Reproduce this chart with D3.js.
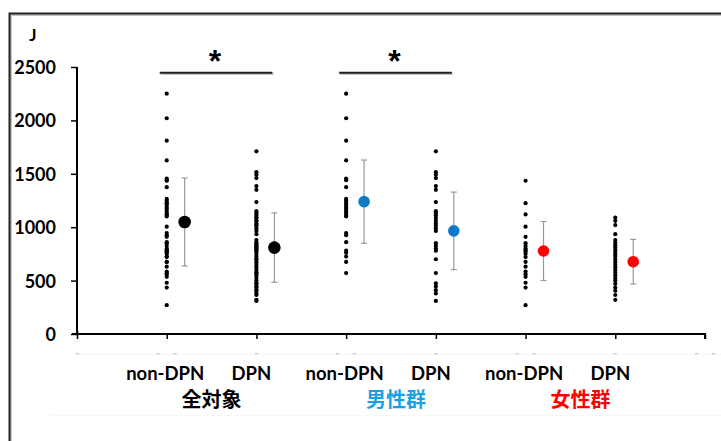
<!DOCTYPE html>
<html>
<head>
<meta charset="utf-8">
<script src="https://cdn.jsdelivr.net/npm/d3@7"></script>
<style>
  html, body { margin: 0; padding: 0; background: #fff; }
  svg { display: block; }
  .lat { font-family: Lato, "Liberation Sans", sans-serif; font-weight: 700; }
  .cjk { font-family: "Noto Sans CJK JP", sans-serif; font-weight: 700; }
  .star { font-family: "Liberation Sans", Arial, sans-serif; font-weight: 700; }
</style>
</head>
<body>
<svg id="chart" width="721" height="441"></svg>
<script>
// Energy (J) per subject, by group and DPN status
const groups = ["全対象", "男性群", "女性群"];
const groupColors = ["#000000", "#18A2E6", "#FF0000"];
const meanColors = ["#000000", "#0B7BC7", "#FF0000"];
const statusLabels = ["non-DPN", "DPN"];

const allNonDpn = [2250, 2020, 1810, 1625, 1455, 1440, 1435, 1375, 1265, 1250, 1230, 1225, 1210, 1190, 1175, 1155, 1135, 1120, 1115, 1100, 1005, 945, 925, 910, 860, 850, 825, 800, 785, 780, 770, 760, 750, 725, 720, 675, 675, 630, 585, 570, 560, 535, 480, 435, 270];
const allDpn = [1710, 1515, 1490, 1460, 1385, 1350, 1235, 1150, 1130, 1110, 1090, 1085, 1060, 1060, 1035, 1020, 1015, 990, 965, 935, 880, 855, 850, 830, 825, 810, 800, 785, 780, 760, 740, 720, 700, 695, 670, 645, 625, 600, 575, 570, 550, 525, 500, 475, 470, 445, 435, 410, 405, 380, 365, 320, 310];
const menNonDpn = [2250, 2020, 1810, 1625, 1455, 1440, 1375, 1265, 1250, 1230, 1210, 1190, 1175, 1155, 1135, 1115, 1100, 945, 925, 860, 780, 760, 725, 675, 570];
const menDpn = [1710, 1515, 1490, 1460, 1385, 1350, 1235, 1150, 1130, 1110, 1085, 1060, 1035, 1015, 990, 965, 850, 825, 800, 780, 700, 570, 475, 445, 410, 380, 310];
const womenNonDpn = [1435, 1225, 1120, 1005, 910, 850, 825, 800, 785, 770, 750, 720, 675, 630, 585, 560, 535, 480, 435, 270];
const womenDpn = [1090, 1060, 1020, 935, 880, 855, 830, 810, 785, 760, 740, 720, 695, 670, 645, 625, 600, 575, 550, 525, 500, 470, 435, 405, 365, 320];

// column order: all non-DPN, all DPN, men non-DPN, men DPN, women non-DPN, women DPN
const columns = [allNonDpn, allDpn, menNonDpn, menDpn, womenNonDpn, womenDpn];
const columnPos = [1, 2, 3, 4, 5, 6];
const means = [1048, 809, 1239, 966, 777, 677];
const sds = [412, 325, 390, 363, 276, 209];

const yTicks = [0, 500, 1000, 1500, 2000, 2500];
const xTicks = [0, 1, 2, 3, 4, 5, 6, 7];
const yUnit = "J";
// significant pairs (column indices)
const sigPairs = [[0, 1], [2, 3]];

const svg = d3.select("#chart");

const x = d3.scaleLinear().domain([0, 7]).range([77, 705]);
const y = d3.scaleLinear().domain([0, 2500]).range([334, 67]);

// outer frame (left and top edges) with soft shadow
const frame = svg.append("g");
frame.append("path").attr("d", "M11,443 L11,15 L723,15")
  .attr("fill", "none").attr("stroke", "#c4c4c4").attr("stroke-width", 2);
frame.append("path").attr("d", "M9.5,443 L9.5,13.5 L723,13.5")
  .attr("fill", "none").attr("stroke", "#222").attr("stroke-width", 2);

// faint edges of the label band
svg.append("line").attr("x1", 77).attr("x2", 721).attr("y1", 354.5).attr("y2", 354.5)
  .attr("stroke", "#f5f5f5").attr("stroke-width", 1);
svg.append("line").attr("x1", 50).attr("x2", 721).attr("y1", 415.5).attr("y2", 415.5)
  .attr("stroke", "#f7f7f7").attr("stroke-width", 1);

// remnants of numeric tick labels below the axis
const stubs = svg.append("g");
xTicks.forEach(t => {
  const offs = t % 2 === 1 ? [-8.5, 8.5] : [0];
  offs.forEach(o => {
    stubs.append("rect").attr("x", x(t) + o - 1.5).attr("y", 353).attr("width", 3).attr("height", 1.2)
      .attr("fill", "#c4c4c4");
  });
});

// y axis
const yAxis = svg.append("g").attr("transform", `translate(${x(0)},0)`)
  .call(d3.axisLeft(y).tickValues(yTicks).tickSize(6).tickPadding(15).tickFormat(d3.format("d")));
yAxis.select(".domain").attr("stroke", "#000").attr("stroke-width", 2).attr("d", `M0,${y(2500)}V${y(0) + 1}`);
yAxis.selectAll(".tick line").attr("stroke", "#000").attr("stroke-width", 1.5);
yAxis.selectAll(".tick text").attr("class", "lat").attr("font-size", 18).attr("fill", "#000")
  .attr("dy", "0.36em");

// x axis
const xAxis = svg.append("g").attr("transform", `translate(0,${y(0)})`)
  .call(d3.axisBottom(x).tickValues(xTicks).tickSize(5).tickFormat(""));
xAxis.select(".domain").attr("stroke", "#000").attr("stroke-width", 2)
  .attr("d", `M${x(0) - 5},0H${x(7)}V5`);
xAxis.selectAll(".tick line").attr("stroke", "#000").attr("stroke-width", 1.5)
  .attr("y1", (d, i) => i === 0 ? -3 : 0);

// unit label
svg.append("text").attr("class", "lat").attr("x", 33).attr("y", 41)
  .attr("text-anchor", "middle").attr("font-size", 17).text(yUnit);

// individual values
const dotLayer = svg.append("g");
columns.forEach((vals, i) => {
  dotLayer.selectAll(null).data(vals).enter().append("circle")
    .attr("cx", x(columnPos[i])).attr("cy", d => y(d)).attr("r", 2.1).attr("fill", "#000");
});

// mean ± SD
const ms = svg.append("g");
means.forEach((m, i) => {
  const cx = x(columnPos[i] + 0.2);
  const g = Math.floor(i / 2);
  const top = y(m + sds[i]), bot = y(m - sds[i]);
  ms.append("line").attr("x1", cx).attr("x2", cx).attr("y1", top).attr("y2", bot)
    .attr("stroke", "#9a9a9a").attr("stroke-width", 1.2);
  [top, bot].forEach(v => ms.append("line").attr("x1", cx - 3).attr("x2", cx + 3)
    .attr("y1", v).attr("y2", v).attr("stroke", "#9a9a9a").attr("stroke-width", 1.2));
  ms.append("circle").attr("cx", cx).attr("cy", y(m))
    .attr("r", g === 0 ? 6.3 : 5.8).attr("fill", meanColors[g]);
});

// significance brackets
sigPairs.forEach(([a, b]) => {
  const x1 = x(columnPos[a]) - 7, x2 = x(columnPos[b]) + 16;
  svg.append("line").attr("x1", x1 + 1).attr("x2", x2 + 1).attr("y1", 74).attr("y2", 74)
    .attr("stroke", "#c8c8c8").attr("stroke-width", 2);
  svg.append("line").attr("x1", x1).attr("x2", x2).attr("y1", 72.7).attr("y2", 72.7)
    .attr("stroke", "#222").attr("stroke-width", 2);
  svg.append("text").attr("class", "star").attr("x", (x1 + x2) / 2 - 1).attr("y", 72)
    .attr("text-anchor", "middle").attr("font-size", 32).text("*");
});

// category labels
columnPos.forEach((p, i) => {
  svg.append("text").attr("class", "lat").attr("x", x(p) + (i % 2 === 0 ? -1.5 : -5))
    .attr("y", 380).attr("text-anchor", "middle").attr("font-size", 18.5).attr("fill", "#000")
    .text(statusLabels[i % 2]);
});

// group labels
const groupShift = [0, 5, 10];
groups.forEach((gname, g) => {
  svg.append("text").attr("class", "cjk").attr("x", x(2 * g + 1.5) + groupShift[g])
    .attr("y", 407).attr("text-anchor", "middle").attr("font-size", 20)
    .attr("fill", groupColors[g]).text(gname);
});
</script>
</body>
</html>
